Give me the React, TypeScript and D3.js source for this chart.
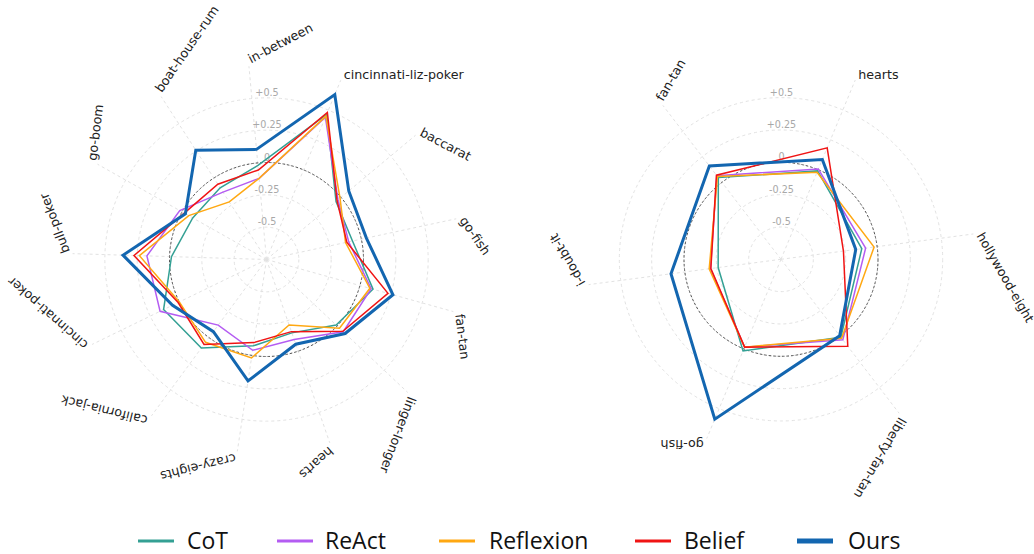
import React from "react";
import * as d3 from "d3";

// ---------- data ----------
const leftCategories = [
  "cincinnati-liz-poker", "baccarat", "go-fish", "fan-tan", "linger-longer", "hearts",
  "crazy-eights", "california-jack", "cincinnati-poker", "bull-poker", "go-boom",
  "boat-house-rum", "in-between",
];
const leftCoT = [0.465, -0.05, -0.07, 0.105, -0.01, -0.15, -0.075, 0.1, 0.135, -0.015, -0.095, -0.09, -0.02];
const leftReAct = [0.44, -0.03, -0.1, 0.09, 0.065, -0.095, -0.04, -0.12, 0.165, 0.175, 0.02, -0.13, -0.12];
const leftReflexion = [0.45, -0.01, -0.125, 0.08, 0.025, -0.215, 0.02, 0.045, 0.0, 0.233, -0.06, -0.22, -0.12];
const leftBelief = [0.48, -0.04, -0.115, 0.225, 0.06, -0.16, -0.1, 0.065, 0.01, 0.275, -0.02, -0.057, -0.055];
const leftOurs = [0.63, 0.078, 0.04, 0.265, 0.085, -0.057, 0.2, -0.057, 0.058, 0.36, -0.03, 0.257, 0.105];

const rightCategories = ["hearts", "hollywood-eight", "liberty-fan-tan", "go-fish", "i-doubt-it", "fan-tan"];
const rightCoT = [-0.01, -0.12, 0.01, 0.017, -0.26, 0.046];
const rightReAct = [0.005, -0.09, 0.035, -0.015, -0.2, 0.065];
const rightReflexion = [-0.022, -0.024, 0.02, -0.015, -0.19, 0.057];
const rightBelief = [0.183, -0.263, 0.098, -0.015, -0.203, 0.07];
const rightOurs = [0.085, -0.167, -0.005, 0.588, 0.108, 0.16];

const seriesNames = ["CoT", "ReAct", "Reflexion", "Belief", "Ours"];
const radialTicks = [-0.5, -0.25, 0, 0.25, 0.5];
const radialTickLabels = ["-0.5", "-0.25", "0", "+0.25", "+0.5"];
const radialRange = [-0.75, 0.75];

// ---------- styles ----------
const colors = ["#34a094", "#b45cf2", "#ffa812", "#f01414", "#1366b0"];
const widths = [1.5, 1.5, 1.5, 1.5, 3];
const legendWidths = [3, 3, 3, 3, 5];
const legendLineX = [138, 277, 439, 635, 797];
const legendTextX = [187, 325, 489, 684, 848];

const W = 1034;
const H = 554;
const R = 194;
const START_DEG = 22.5;

type RadarProps = { cx: number; cy: number; categories: string[]; series: number[][] };

function Radar({ cx, cy, categories, series }: RadarProps) {
  const n = categories.length;
  const rScale = d3.scaleLinear().domain(radialRange).range([0, R]);
  const aScale = d3.scaleLinear().domain([0, n]).range([START_DEG, START_DEG + 360]);
  const rad = (deg: number) => (deg * Math.PI) / 180;
  const line = d3
    .lineRadial<number>()
    .angle((_, i) => rad(aScale(i)))
    .radius((d) => rScale(d))
    .curve(d3.curveLinearClosed);

  return (
    <g transform={`translate(${cx},${cy})`}>
      {radialTicks.map((t) => (
        <circle key={t} r={rScale(t)} fill="none" stroke="#e2e2e2" strokeWidth={1} strokeDasharray="3,3" />
      ))}
      {categories.map((c, i) => {
        const a = rad(aScale(i));
        return (
          <line key={c} x1={0} y1={0} x2={R * Math.sin(a)} y2={-R * Math.cos(a)} stroke="#e2e2e2" strokeWidth={1} strokeDasharray="3,3" />
        );
      })}
      <circle r={rScale(0)} fill="none" stroke="#555" strokeWidth={1} strokeDasharray="2.5,2" />
      {radialTicks.map((t, i) => (
        <text key={"t" + t} x={0.5} y={-rScale(t) - 2} textAnchor="middle" fontFamily="DejaVu Sans" fontSize={9.6} fill="#a8a8a8">
          {radialTickLabels[i]}
        </text>
      ))}
      {categories.map((c, i) => {
        const a = rad(aScale(i));
        const x = R * Math.sin(a);
        const y = -R * Math.cos(a);
        const rot = aScale(i) - START_DEG;
        return (
          <text key={"l" + c} transform={`translate(${x},${y}) rotate(${rot})`} x={3} y={-1.5} fontFamily="DejaVu Sans" fontSize={12.7} fill="#222">
            {c}
          </text>
        );
      })}
      {series.map((s, k) => (
        <path key={k} d={line(s) || ""} fill="none" stroke={colors[k]} strokeWidth={widths[k]} strokeLinejoin="miter" />
      ))}
    </g>
  );
}

export default function App() {
  const leftSeries = [leftCoT, leftReAct, leftReflexion, leftBelief, leftOurs];
  const rightSeries = [rightCoT, rightReAct, rightReflexion, rightBelief, rightOurs];
  return (
    <svg width={W} height={H} style={{ position: "absolute", left: 0, top: 0, background: "#fff" }}>
      <rect width={W} height={H} fill="#fff" />
      <Radar cx={266.5} cy={259.5} categories={leftCategories} series={leftSeries} />
      <Radar cx={781} cy={259.3} categories={rightCategories} series={rightSeries} />
      {seriesNames.map((name, k) => (
        <g key={name}>
          <line x1={legendLineX[k]} x2={legendLineX[k] + 36} y1={541} y2={541} stroke={colors[k]} strokeWidth={legendWidths[k]} />
          <text x={legendTextX[k]} y={549} fontFamily="Open Sans" fontSize={23} fill="#111">
            {name}
          </text>
        </g>
      ))}
    </svg>
  );
}
